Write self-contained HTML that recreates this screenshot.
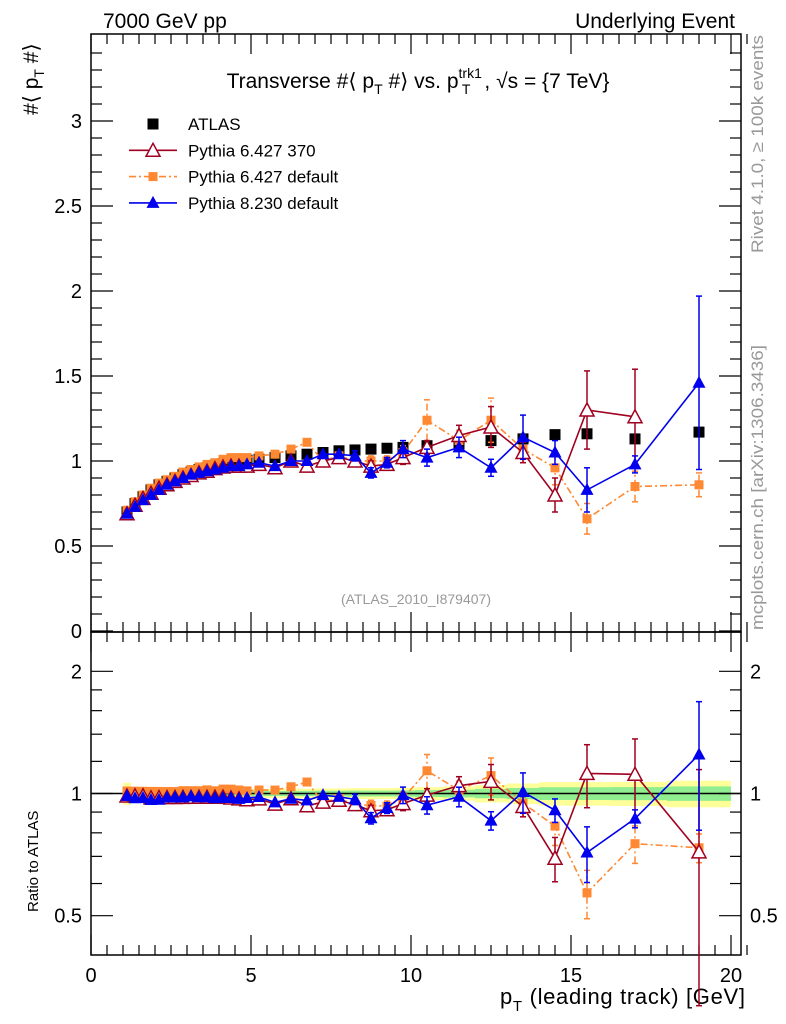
<!DOCTYPE html>
<html><head><meta charset="utf-8"><style>
body{margin:0;background:#fff;}
svg{display:block;font-family:"Liberation Sans",sans-serif;}
</style></head><body>
<svg id="c" width="786" height="1024" xmlns="http://www.w3.org/2000/svg">
<text x="103" y="28" font-size="21">7000 GeV pp</text>
<text x="735" y="28" font-size="21" text-anchor="end">Underlying Event</text>
<text x="418" y="88" font-size="21" text-anchor="middle">Transverse #⟨ p<tspan font-size="14" dy="6">T</tspan><tspan dy="-6"> #⟩ vs. p</tspan><tspan font-size="14" dy="-10">trk1</tspan><tspan font-size="14" dx="-20" dy="16">T</tspan><tspan dx="14" dy="-6">, √s = {7 TeV}</tspan></text>
<text transform="translate(38,115) rotate(-90)" font-size="21">#⟨ p<tspan font-size="14" dy="6">T</tspan><tspan dy="-6"> #⟩</tspan></text>
<text transform="translate(38,912) rotate(-90)" font-size="15">Ratio to ATLAS</text>
<text transform="translate(763,253) rotate(-90)" font-size="17" textLength="218" lengthAdjust="spacingAndGlyphs" fill="#999">Rivet 4.1.0, ≥ 100k events</text>
<text transform="translate(763,630) rotate(-90)" font-size="17" textLength="285" lengthAdjust="spacingAndGlyphs" fill="#999">mcplots.cern.ch [arXiv:1306.3436]</text>
<text x="416" y="604" font-size="14" fill="#999" text-anchor="middle">(ATLAS_2010_I879407)</text>
<text x="745" y="1004" font-size="22" textLength="245" text-anchor="end">p<tspan font-size="15" dy="7">T</tspan><tspan dy="-7"> (leading track) [GeV]</tspan></text>
<g id="g"></g>
</svg>
<script>
const xs=[1.125,1.375,1.625,1.875,2.125,2.375,2.625,2.875,3.125,3.375,3.625,3.875,4.125,4.375,4.625,4.875,5.25,5.75,6.25,6.75,7.25,7.75,8.25,8.75,9.25,9.75,10.5,11.5,12.5,13.5,14.5,15.5,17,19];
const atlas=[0.70,0.75,0.79,0.83,0.86,0.88,0.90,0.92,0.935,0.95,0.96,0.975,0.985,0.995,1.0,1.005,1.01,1.02,1.03,1.04,1.05,1.06,1.065,1.07,1.075,1.08,1.09,1.10,1.12,1.13,1.155,1.16,1.13,1.17];
const atlasErr=[0.02,0.01,0.01,0.01,0.01,0.01,0.01,0.01,0.01,0.01,0.01,0.01,0.01,0.01,0.012,0.012,0.012,0.012,0.013,0.013,0.014,0.014,0.015,0.015,0.015,0.016,0.018,0.02,0.025,0.03,0.035,0.035,0.035,0.04];
const py370=[0.69,0.74,0.78,0.81,0.84,0.86,0.88,0.90,0.915,0.93,0.94,0.955,0.965,0.97,0.97,0.97,0.98,0.96,1.0,0.97,1.0,1.02,1.0,0.97,0.98,1.02,1.08,1.15,1.20,1.05,0.80,1.30,1.26,0.84];
const py370Err=[0.01,0.01,0.01,0.01,0.01,0.01,0.01,0.01,0.01,0.01,0.01,0.01,0.01,0.01,0.01,0.01,0.02,0.02,0.02,0.02,0.02,0.02,0.03,0.03,0.03,0.04,0.04,0.06,0.12,0.06,0.10,0.23,0.28,0.5];
const pydef=[0.71,0.76,0.80,0.84,0.87,0.89,0.91,0.935,0.95,0.965,0.98,0.99,1.01,1.02,1.02,1.02,1.03,1.04,1.07,1.11,1.0,1.03,1.0,1.0,1.0,1.05,1.24,1.12,1.24,1.07,0.96,0.66,0.85,0.86];
const pydefErr=[0.01,0.01,0.01,0.01,0.01,0.01,0.01,0.01,0.01,0.01,0.01,0.01,0.01,0.01,0.01,0.01,0.02,0.02,0.02,0.02,0.02,0.02,0.03,0.03,0.03,0.04,0.12,0.06,0.13,0.08,0.10,0.09,0.09,0.07];
const py8=[0.69,0.73,0.77,0.80,0.83,0.86,0.88,0.90,0.92,0.93,0.94,0.95,0.96,0.97,0.97,0.98,0.99,0.97,1.0,1.0,1.04,1.04,1.03,0.93,0.99,1.07,1.02,1.08,0.96,1.14,1.05,0.83,0.98,1.46];
const py8Err=[0.01,0.01,0.01,0.01,0.01,0.01,0.01,0.01,0.01,0.01,0.01,0.01,0.01,0.01,0.01,0.01,0.02,0.02,0.02,0.02,0.02,0.02,0.03,0.03,0.03,0.05,0.05,0.06,0.05,0.13,0.07,0.13,0.05,0.51];
const xTicks=[0,5,10,15,20];
const yTicks=[0,0.5,1,1.5,2,2.5,3];
const rTicks=[0.5,1,2];

const L=91,R=741,T=34,M=632,B=955;
const X=v=>L+v*(731-L)/20;
const Y=v=>631-v*170;
const rlo=Math.log(0.4),rhi=Math.log(2.5);
const YR=v=>B-(Math.log(Math.max(v,0.3))-rlo)/(rhi-rlo)*(B-M);
const NS="http://www.w3.org/2000/svg";
const g=document.getElementById('g');
function el(t,a,p){const e=document.createElementNS(NS,t);for(const k in a)e.setAttribute(k,a[k]);(p||g).appendChild(e);return e;}

for(let i=0;i<xs.length;i++){
  const x0=i==0?X(1.0):X((xs[i-1]+xs[i])/2), x1=i==xs.length-1?X(20):X((xs[i]+xs[i+1])/2);
  const e=atlasErr[i]/atlas[i];
  const y=el('rect',{x:x0,y:YR(1+e*2.2),width:x1-x0,height:YR(1-e*2.2)-YR(1+e*2.2),fill:'#ffff99'});
  
  
  const gr=el('rect',{x:x0,y:YR(1+e*1.2),width:x1-x0,height:YR(1-e*1.2)-YR(1+e*1.2),fill:'#90ee90'});
  
  
}
el('line',{x1:L,x2:R,y1:YR(1),y2:YR(1),stroke:'#000','stroke-width':1.5});

el('rect',{x:L,y:T,width:R-L,height:M-T,fill:'none',stroke:'#000','stroke-width':1.5});
el('rect',{x:L,y:M,width:R-L,height:B-M,fill:'none',stroke:'#000','stroke-width':1.5});

for(let v=0;v<=20.9;v+=0.5){
  const maj=Math.abs(v%5)<1e-9, len=maj?20:10, x=X(v);
  for(const [y0,d] of [[T,1],[M,-1],[M,1],[B,-1]]) el('line',{x1:x,x2:x,y1:y0,y2:y0+d*len,stroke:'#000','stroke-width':1.2});
}
xTicks.forEach(v=>{const t=el('text',{x:X(v),y:982,'font-size':20,'text-anchor':'middle'});t.textContent=v;

});
for(let v=0;v<=3.5;v+=0.1){
  const maj=Math.abs(v*2-Math.round(v*2))<1e-6,len=maj?22:11,y=Y(v);
  if(y<T)continue;
  el('line',{x1:L,x2:L+len,y1:y,y2:y,stroke:'#000','stroke-width':1.2});
  el('line',{x1:R,x2:R-len,y1:y,y2:y,stroke:'#000','stroke-width':1.2});
}
yTicks.forEach(v=>{const t=el('text',{x:82,y:Y(v)+7,'font-size':20,'text-anchor':'end'});t.textContent=v;

});
[0.5,0.6,0.7,0.8,0.9,1,1.2,1.4,1.6,1.8,2].forEach(v=>{
  const maj=rTicks.includes(v),len=maj?22:11,y=YR(v);
  el('line',{x1:L,x2:L+len,y1:y,y2:y,stroke:'#000','stroke-width':1.2});
  el('line',{x1:R,x2:R-len,y1:y,y2:y,stroke:'#000','stroke-width':1.2});
});
rTicks.forEach(v=>{
  const t=el('text',{x:82,y:YR(v)+7,'font-size':20,'text-anchor':'end'});t.textContent=v;
  
  
  const t2=el('text',{x:750,y:YR(v)+7,'font-size':20});t2.textContent=v;
  
  
});

function marker(kind,x,y,col,parent){
  if(kind=='sq') return el('rect',{x:x-5.5,y:y-5.5,width:11,height:11,fill:col},parent);
  if(kind=='osq') return el('rect',{x:x-4.5,y:y-4.5,width:9,height:9,fill:col},parent);
  if(kind=='tri') return el('polygon',{points:`${x},${y-7} ${x-6.5},${y+5} ${x+6.5},${y+5}`,fill:col},parent);
  return el('polygon',{points:`${x},${y-7} ${x-7},${y+6} ${x+7},${y+6}`,fill:'#fff',stroke:col,'stroke-width':1.5},parent);
}
function series(vals,errs,col,kind,dash,name,mainLast){
  const gg=el('g',{});
  
  
  for(const [F,ratio] of [[Y,false],[YR,true]]){
    const n=ratio?vals.length:(mainLast||vals.length);
    const pts=[];
    for(let i=0;i<n;i++){
      const v=ratio?vals[i]/atlas[i]:vals[i], e=ratio?errs[i]/atlas[i]:errs[i];
      pts.push(X(xs[i])+','+F(v));
      if(kind!='sq'){
        el('line',{x1:X(xs[i]),x2:X(xs[i]),y1:F(v-e),y2:F(v+e),stroke:col,'stroke-width':1.5,'stroke-dasharray':dash||''},gg);
        if(e>0.02){el('line',{x1:X(xs[i])-3,x2:X(xs[i])+3,y1:F(v-e),y2:F(v-e),stroke:col,'stroke-width':1.5},gg);
        el('line',{x1:X(xs[i])-3,x2:X(xs[i])+3,y1:F(v+e),y2:F(v+e),stroke:col,'stroke-width':1.5},gg);}
      }
    }
    if(kind!='sq') el('polyline',{points:pts.join(' '),fill:'none',stroke:col,'stroke-width':1.6,'stroke-dasharray':dash||''},gg);
    if(kind=='sq'&&ratio) continue;
    for(let i=0;i<n;i++){
      const v=ratio?vals[i]/atlas[i]:vals[i];
      const m=marker(kind,X(xs[i]),F(v),col,gg);
      
      
    }
  }
}
series(atlas,atlasErr,'#000','sq','','atlas-series');
series(pydef,pydefErr,'#ff8833','osq','7 3 2 3','pythia6-default-series');
series(py370,py370Err,'#a00020','otri','','pythia6-370-series',33);
series(py8,py8Err,'#0000ee','tri','','pythia8-series');

const leg=[['ATLAS','sq','#000',''],['Pythia 6.427 370','otri','#a00020',''],['Pythia 6.427 default','osq','#ff8833','7 3 2 3'],['Pythia 8.230 default','tri','#0000ee','']];
leg.forEach((l,i)=>{
  const y=124+i*26.3;
  const lg=el('g',{});
  
  
  if(l[1]!='sq') el('line',{x1:129,x2:177,y1:y,y2:y,stroke:l[2],'stroke-width':1.6,'stroke-dasharray':l[3]},lg);
  marker(l[1],153,y,l[2],lg);
  const t=el('text',{x:188,y:y+6,'font-size':17},lg);t.textContent=l[0];
});
</script>
</body></html>
